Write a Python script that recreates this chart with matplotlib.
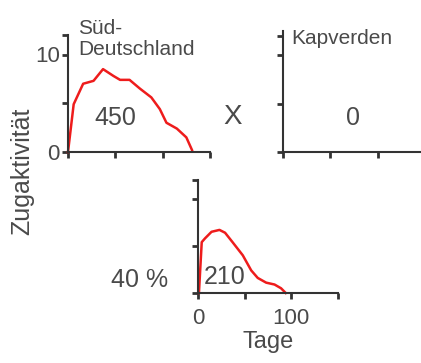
import matplotlib
matplotlib.use("Agg")
import matplotlib.pyplot as plt
from matplotlib.ticker import FixedLocator

plt.rcParams['font.family'] = ['Liberation Sans', 'DejaVu Sans']

# Süd-Deutschland activity curve
sued_tage = [0, 6, 16, 27, 37, 48, 55, 65, 76, 88, 97, 104, 115, 125, 131]
sued_akt = [0, 4.9, 7.0, 7.3, 8.5, 7.8, 7.4, 7.4, 6.5, 5.6, 4.4, 3.0, 2.4, 1.5, 0.2]

# third panel curve (40 %)
mix_tage = [1, 4, 7.5, 14.5, 23, 29, 37, 48, 57, 64, 73, 82, 89, 94]
mix_akt = [0, 5.4, 5.8, 6.5, 6.7, 6.4, 5.4, 4.0, 2.4, 1.6, 1.1, 0.9, 0.5, 0]

x_ticks = [0, 50, 100, 150]
y_ticks = [0, 5, 10, 12]
anzahl = ['450', '0', '210']

W, H = 421, 363
fig = plt.figure(figsize=(W / 100, H / 100), dpi=100)
txt = '#4a4a4a'
spine_c = '#333333'
red = '#ee1c1c'


def box(l, t, r, b):
    return [l / W, 1 - b / H, (r - l) / W, (b - t) / H]


def style(ax, ytop=12):
    ax.set_xlim(0, 150)
    ax.set_ylim(0, ytop)
    for s in ['top', 'right']:
        ax.spines[s].set_visible(False)
    for s in ['left', 'bottom']:
        ax.spines[s].set_color(spine_c)
        ax.spines[s].set_linewidth(1.5)
    ax.xaxis.set_major_locator(FixedLocator(x_ticks))
    ax.yaxis.set_major_locator(FixedLocator(y_ticks))
    ax.tick_params(direction='out', length=4, width=2, color=spine_c,
                   labelsize=16, labelcolor=txt, pad=2)
    ax.set_xticklabels([])
    ax.set_yticklabels([])
    ax.patch.set_alpha(0)


ax1 = fig.add_axes(box(68, 35, 210, 152))
style(ax1)
ax1.plot(sued_tage, sued_akt, color=red, lw=1.8, clip_on=False)
ax1.set_yticklabels(['0', '', '10', ''])
ax1.text(0.33, 0.29, anzahl[0], transform=ax1.transAxes, ha='center',
         va='center', fontsize=18, color=txt)
fig.text(78 / W, 1 - 39 / H, 'Süd-\nDeutschland', ha='left', va='center',
         fontsize=15, color=txt, linespacing=1.1)

ax2 = fig.add_axes(box(283, 31, 425, 152))
style(ax2, 12.5)
ax2.text(0.06, 0.94, 'Kapverden', transform=ax2.transAxes,
         ha='left', va='center', fontsize=15, color=txt)
ax2.text(0.49, 0.28, anzahl[1], transform=ax2.transAxes, ha='center',
         va='center', fontsize=18, color=txt)

ax3 = fig.add_axes(box(198, 180, 338, 293))
style(ax3)
ax3.plot(mix_tage, mix_akt, color=red, lw=1.8, clip_on=False)
ax3.set_xticklabels(['0', '', '100', ''])
ax3.tick_params(axis='x', pad=7)
ax3.text(0.19, 0.14, anzahl[2], transform=ax3.transAxes, ha='center',
         va='center', fontsize=18, color=txt)
ax3.set_xlabel('Tage', fontsize=17, color=txt, labelpad=1)

fig.text(233 / W, 1 - 117 / H, 'X', ha='center', va='center', fontsize=20, color=txt)
fig.text(140 / W, 1 - 280 / H, '40 %', ha='center', va='center', fontsize=18, color=txt)
fig.text(22 / W, 1 - 171 / H, 'Zugaktivität', ha='center', va='center',
         rotation=90, fontsize=18, color=txt)

fig.savefig('out.png', dpi=100)
